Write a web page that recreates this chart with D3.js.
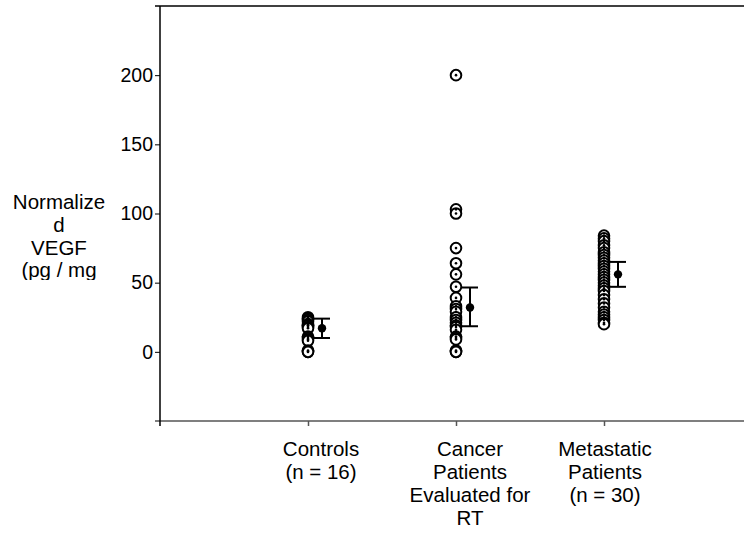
<!DOCTYPE html>
<html>
<head>
<meta charset="utf-8">
<script src="https://cdn.jsdelivr.net/npm/d3@7"></script>
<style>
  html, body { margin: 0; padding: 0; background: #fff; }
  svg { display: block; }
  text { font-family: "Liberation Sans", Arial, sans-serif; fill: #000; }
</style>
</head>
<body>
<script>
// ---- data ----
const categories = [
  ["Controls", "(n = 16)"],
  ["Cancer", "Patients", "Evaluated for", "RT"],
  ["Metastatic", "Patients", "(n = 30)"]
];
const controls = [25, 24, 23, 22, 20, 19, 19, 18, 17, 11, 10, 9, 8, 1, 0, 0];
const cancer = [200, 103, 100, 75, 64, 56, 47, 39, 33, 31, 29, 25, 23, 21, 19, 18, 16, 11, 10, 9, 1, 0, 0];
const metastatic = [84, 82, 80, 77, 75, 72, 70, 68, 66, 64, 62, 60, 58, 56, 54, 52, 50, 48, 46, 44, 41, 38, 35, 32, 29, 27, 25, 23, 21, 20];
const means = [17, 32, 56];
const lower = [10, 18.5, 47];
const upper = [24, 46.5, 65];
const yTicks = [0, 50, 100, 150, 200];
const yTitle = ["Normalize", "d", "VEGF", "(pg / mg"];
const labelOffset = [13, 14, 1];

const W = 744, H = 533;
const svg = d3.select("body").append("svg").attr("width", W).attr("height", H);

const x = d3.scaleLinear().domain([0, 4]).range([160, 752]);
const y = d3.scaleLinear().domain([-50, 250]).range([421, 6]);

// frame lines
svg.append("line").attr("x1", 155).attr("x2", W).attr("y1", y(250)).attr("y2", y(250))
  .attr("stroke", "#000").attr("stroke-width", 1.5);
svg.append("line").attr("x1", 155).attr("x2", W).attr("y1", y(-50)).attr("y2", y(-50))
  .attr("stroke", "#555").attr("stroke-width", 1.5);
svg.append("line").attr("x1", x(0)).attr("x2", x(0)).attr("y1", y(250)).attr("y2", y(-50) + 5)
  .attr("stroke", "#000").attr("stroke-width", 1.5);

// y axis ticks + labels
const yAxis = d3.axisLeft(y).tickValues(yTicks).tickSize(5).tickPadding(2);
const gy = svg.append("g").attr("transform", `translate(${x(0)},0)`).call(yAxis);
gy.select(".domain").remove();
gy.selectAll(".tick line").attr("stroke", "#000").attr("stroke-width", 1);
gy.selectAll(".tick text").style("font-size", "19.5px").style("font-family", '"Liberation Sans", Arial, sans-serif').attr("fill", "#000");

// x axis ticks
const gx = svg.append("g").attr("transform", `translate(0,${y(-50)})`)
  .call(d3.axisBottom(x).tickValues([1, 2, 3]).tickSize(5).tickFormat(""));
gx.select(".domain").remove();
gx.selectAll(".tick line").attr("stroke", "#555").attr("stroke-width", 1.5);

// x category labels
categories.forEach((lines, i) => {
  const cx = x(i + 1) + labelOffset[i];
  const t = svg.append("text").attr("text-anchor", "middle").style("font-size", "20.5px")
    .attr("x", cx).attr("y", 456);
  lines.forEach((l, j) => {
    t.append("tspan").attr("x", cx).attr("dy", j === 0 ? 0 : 23).text(l);
  });
});

// y title (clipped)
svg.append("clipPath").attr("id", "tclip").append("rect")
  .attr("x", 0).attr("y", 0).attr("width", 150).attr("height", 280);
const tt = svg.append("text").attr("text-anchor", "middle").style("font-size", "20.5px")
  .attr("clip-path", "url(#tclip)").attr("x", 59).attr("y", 209);
yTitle.forEach((l, j) => {
  tt.append("tspan").attr("x", 59).attr("dy", j === 0 ? 0 : 22.8).text(l);
});

// points
const groups = [controls, cancer, metastatic];
groups.forEach((vals, i) => {
  const g = svg.append("g");
  g.selectAll("circle.pt").data(vals).join("circle").attr("class", "pt")
    .attr("cx", x(i + 1)).attr("cy", d => y(d)).attr("r", 5.3)
    .attr("fill", "#fff").attr("stroke", "#000").attr("stroke-width", 2);
  g.selectAll("circle.c").data(vals).join("circle").attr("class", "c")
    .attr("cx", x(i + 1)).attr("cy", d => y(d)).attr("r", 1.3).attr("fill", "#000");
});

// means + error bars
means.forEach((m, i) => {
  const cx = x(i + 1) + 14;
  const g = svg.append("g").attr("stroke", "#000").attr("stroke-width", 2);
  g.append("line").attr("x1", cx).attr("x2", cx).attr("y1", y(lower[i])).attr("y2", y(upper[i]));
  g.append("line").attr("x1", cx - 8).attr("x2", cx + 8).attr("y1", y(lower[i])).attr("y2", y(lower[i]));
  g.append("line").attr("x1", cx - 8).attr("x2", cx + 8).attr("y1", y(upper[i])).attr("y2", y(upper[i]));
  svg.append("circle").attr("cx", cx).attr("cy", y(m)).attr("r", 4.2).attr("fill", "#000");
});
</script>
</body>
</html>
